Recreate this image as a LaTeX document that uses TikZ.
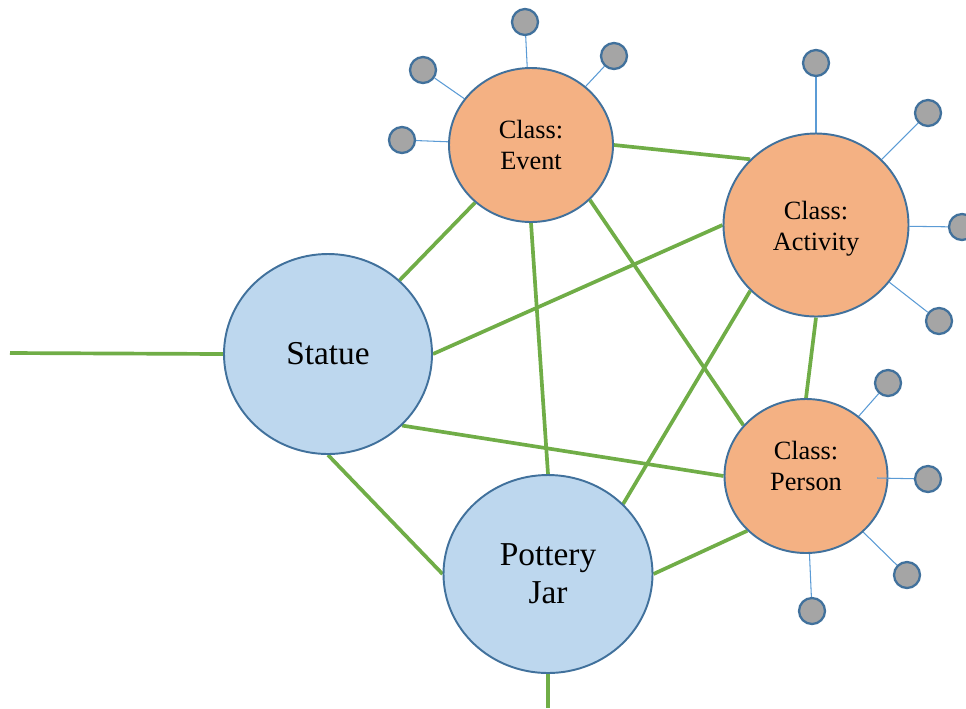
\documentclass[tikz,border=0pt]{standalone}
\usepackage{fontspec}
\setmainfont{Liberation Serif}
\usetikzlibrary{positioning, shapes.geometric, backgrounds}
\definecolor{objfill}{HTML}{BDD7EE}
\definecolor{clsfill}{HTML}{F4B183}
\definecolor{rim}{HTML}{41719C}
\definecolor{linkgreen}{HTML}{70AD47}
\definecolor{propblue}{HTML}{5B9BD5}
\definecolor{attrgray}{HTML}{A5A5A5}

\begin{document}
\begin{tikzpicture}[
    obj/.style={draw=rim, line width=1.1pt, ellipse, fill=objfill, inner sep=0pt, align=center, font=\fontsize{19}{21.5}\selectfont},
    cls/.style={draw=rim, line width=1.1pt, ellipse, fill=clsfill, inner sep=0pt, align=center, font=\fontsize{15}{17.6}\selectfont},
    attr/.style={draw=rim, line width=1.3pt, circle, fill=attrgray, minimum size=0.52cm, inner sep=0pt},
    link/.style={draw=linkgreen, line width=2.1pt},
    prop/.style={draw=propblue, line width=0.6pt}]
  \useasboundingbox (0,0) rectangle (19.32,-14.16);

  % Instances
  \node[obj, minimum width=4.16cm, minimum height=4cm] (statue) at (6.56,-7.08) {Statue};
  \node[obj, minimum width=4.18cm, minimum height=3.96cm] (jar) at (10.96,-11.48) {Pottery\\Jar};

  % Classes
  \node[cls, minimum width=3.28cm, minimum height=3.08cm] (event) at (10.62,-2.9) {Class:\\Event};
  \node[cls, minimum width=3.7cm, minimum height=3.66cm] (activity) at (16.32,-4.5) {\rule{0pt}{0.52cm}Class:\\Activity};
  \node[cls, minimum width=3.26cm, minimum height=3.08cm] (person) at (16.12,-9.52) {Class:\\Person\rule[-0.4cm]{0pt}{0.4cm}};

  % Attributes
  \node[attr] (e1) at (10.5,-0.44) {};
  \node[attr] (e2) at (12.28,-1.12) {};
  \node[attr] (e3) at (8.46,-1.4) {};
  \node[attr] (e4) at (8.04,-2.8) {};
  \node[attr] (a1) at (16.32,-1.26) {};
  \node[attr] (a2) at (18.56,-2.26) {};
  \node[attr] (a3) at (19.24,-4.54) {};
  \node[attr] (a4) at (18.78,-6.42) {};
  \node[attr] (p1) at (17.76,-7.66) {};
  \node[attr] (p2) at (18.56,-9.58) {};
  \node[attr] (p3) at (18.14,-11.5) {};
  \node[attr] (p4) at (16.24,-12.22) {};

  \coordinate (leftend) at (0.2,-7.06);
  \coordinate (downend) at (10.96,-14.16);

  \begin{scope}[on background layer]
    % Relations
    \draw[link] (leftend) -- (statue.west);
    \draw[link] (statue) -- (event);
    \draw[link] (statue.east) -- (activity.west);
    \draw[link] (statue.-44) -- (person.west);
    \draw[link] (statue.south) -- (jar.west);
    \draw[link] (event.east) -- (activity.135);
    \draw[link] (event.south) -- (jar.north);
    \draw[link] (event.-43) -- (person.141);
    \draw[link] (activity.225) -- (jar.43);
    \draw[link] (activity.south) -- (person.north);
    \draw[link] (person.223) -- (jar.east);
    \draw[link] (jar.south) -- (downend);

    % Properties
    \draw[prop] (event) -- (e1);
    \draw[prop] (event) -- (e2);
    \draw[prop] (event) -- (e3);
    \draw[prop] (event) -- (e4);
    \draw[prop] (activity) -- (a1);
    \draw[prop] (activity) -- (a2);
    \draw[prop] (activity) -- (a3);
    \draw[prop] (activity) -- (a4);
    \draw[prop] (person) -- (p1);
    \draw[prop] (person) -- (p3);
    \draw[prop] (person) -- (p4);
  \end{scope}
  \draw[prop] ([xshift=1.42cm,yshift=-0.04cm]person.center) -- (p2);
\end{tikzpicture}
\end{document}
